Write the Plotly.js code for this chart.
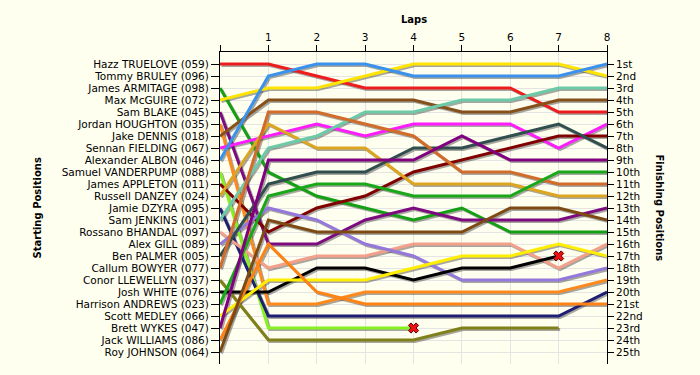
<!DOCTYPE html>
<html><head><meta charset="utf-8">
<script src="https://cdn.plot.ly/plotly-3.0.1.min.js"></script>
<style>html,body{margin:0;padding:0;background:#FFFFF0}#chart{width:700px;height:375px}</style>
</head><body><div id="chart"></div>
<script>
// ---- data ----
const laps = [0, 1, 2, 3, 4, 5, 6, 7, 8];
const lapTickText = ['', '1', '2', '3', '4', '5', '6', '7', '8'];
const startingOrder = [
  'Hazz TRUELOVE (059)', 'Tommy BRULEY (096)', 'James ARMITAGE (098)', 'Max McGUIRE (072)',
  'Sam BLAKE (045)', 'Jordan HOUGHTON (035)', 'Jake DENNIS (018)', 'Sennan FIELDING (067)',
  'Alexander ALBON (046)', 'Samuel VANDERPUMP (088)', 'James APPLETON (011)', 'Russell DANZEY (024)',
  'Jamie DZYRA (095)', 'Sam JENKINS (001)', 'Rossano BHANDAL (097)', 'Alex GILL (089)',
  'Ben PALMER (005)', 'Callum BOWYER (077)', 'Conor LLEWELLYN (037)', 'Josh WHITE (076)',
  'Harrison ANDREWS (023)', 'Scott MEDLEY (066)', 'Brett WYKES (047)', 'Jack WILLIAMS (086)',
  'Roy JOHNSON (064)'
];
const finishLabels = ['1st','2nd','3rd','4th','5th','6th','7th','8th','9th','10th','11th','12th','13th',
  '14th','15th','16th','17th','18th','19th','20th','21st','22nd','23rd','24th','25th'];

// position of each driver at laps 0..8 (lap 0 = grid)
const hazzTruelove      = [1, 1, 2, 3, 3, 3, 3, 5, 5];
const jamesArmitage     = [3, 10, 12, 13, 14, 13, 15, 15, 15];
const maxMcguire        = [4, 3, 3, 2, 1, 1, 1, 1, 2];
const samBlake          = [5, 16, 16, 14, 13, 14, 14, 14, 13];
const jordanHoughton    = [6, 21, 21, 20, 20, 20, 20, 20, 19];
const jakeDennis        = [7, 4, 4, 4, 4, 5, 5, 4, 4];
const sennanFielding    = [8, 7, 6, 7, 6, 6, 6, 8, 6];
const alexanderAlbon    = [9, 2, 1, 1, 2, 2, 2, 2, 1];
const samuelVanderpump  = [10, 23, 23, 23, 23];
const jamesAppleton     = [11, 15, 13, 12, 10, 9, 8, 7, 7];
const russellDanzey     = [12, 6, 8, 8, 11, 11, 11, 12, 12];
const jamieDzyra        = [13, 22, 22, 22, 22, 22, 22, 22, 20];
const samJenkins        = [14, 8, 7, 5, 5, 4, 4, 3, 3];
const rossanoBhandal    = [15, 18, 17, 17, 16, 16, 16, 18, 16];
const alexGill          = [16, 13, 14, 16, 17, 19, 19, 19, 18];
const benPalmer         = [17, 11, 10, 10, 8, 8, 7, 6, 8];
const callumBowyer      = [18, 5, 5, 6, 7, 10, 10, 11, 11];
const conorLlewellyn    = [19, 24, 24, 24, 24, 23, 23, 23];
const joshWhite         = [20, 20, 18, 18, 19, 18, 18, 17];
const harrisonAndrews   = [21, 12, 11, 11, 12, 12, 12, 10, 10];
const scottMedley       = [22, 19, 19, 19, 18, 17, 17, 16, 17];
const brettWykes        = [23, 9, 9, 9, 9, 7, 9, 9, 9];
const jackWilliams      = [24, 16, 20, 21, 21, 21, 21, 21, 21];
const royJohnson        = [25, 14, 15, 15, 15, 15, 13, 13, 14];

const retiredDrivers = ['Samuel VANDERPUMP (088)', 'Josh WHITE (076)'];

// ---- styles ----
const seriesList = [
  ['Hazz TRUELOVE (059)', hazzTruelove, '#EE1C1C'],
  ['James ARMITAGE (098)', jamesArmitage, '#14A014'],
  ['Max McGUIRE (072)', maxMcguire, '#FFE400'],
  ['Sam BLAKE (045)', samBlake, '#7E0A80'],
  ['Jordan HOUGHTON (035)', jordanHoughton, '#FF8A1C'],
  ['Jake DENNIS (018)', jakeDennis, '#85501A'],
  ['Sennan FIELDING (067)', sennanFielding, '#FF1CFF'],
  ['Alexander ALBON (046)', alexanderAlbon, '#3A92EC'],
  ['Samuel VANDERPUMP (088)', samuelVanderpump, '#86F020'],
  ['James APPLETON (011)', jamesAppleton, '#800000'],
  ['Russell DANZEY (024)', russellDanzey, '#DCA620'],
  ['Jamie DZYRA (095)', jamieDzyra, '#1E1E72'],
  ['Sam JENKINS (001)', samJenkins, '#6CCAA8'],
  ['Rossano BHANDAL (097)', rossanoBhandal, '#F2A08A'],
  ['Alex GILL (089)', alexGill, '#9478DC'],
  ['Ben PALMER (005)', benPalmer, '#304E4E'],
  ['Callum BOWYER (077)', callumBowyer, '#D26C2A'],
  ['Conor LLEWELLYN (037)', conorLlewellyn, '#808018'],
  ['Josh WHITE (076)', joshWhite, '#000000'],
  ['Harrison ANDREWS (023)', harrisonAndrews, '#18A818'],
  ['Scott MEDLEY (066)', scottMedley, '#FFEE00'],
  ['Brett WYKES (047)', brettWykes, '#800080'],
  ['Jack WILLIAMS (086)', jackWilliams, '#FF8214'],
  ['Roy JOHNSON (064)', royJohnson, '#7E4A14']
];

const bg = '#FFFFF0';
const fontFam = 'DejaVu Sans, Verdana, sans-serif';
const lapPx = 387 / 8, posPx = 12, shadowPx = 1.5;
const positionTicks = startingOrder.map((_, i) => i + 1);

const traces = [];
// dummy trace so the base axes (grid + labels) are drawn
traces.push({x: laps, y: hazzTruelove, xaxis: 'x', yaxis: 'y', mode: 'lines',
  line: {width: 0}, opacity: 0, hoverinfo: 'skip', showlegend: false});
// shadows
seriesList.forEach(([name, pos]) => traces.push({
  x: laps.slice(0, pos.length), y: pos, xaxis: 'x2', yaxis: 'y2', mode: 'lines',
  line: {color: 'rgba(60,60,60,0.45)', width: 3}, hoverinfo: 'skip', showlegend: false
}));
// lines
seriesList.forEach(([name, pos, color]) => traces.push({
  x: laps.slice(0, pos.length), y: pos, xaxis: 'x3', yaxis: 'y3', mode: 'lines', name: name,
  line: {color: color, width: 3}, showlegend: false
}));
// retirement markers
const retX = [], retY = [];
retiredDrivers.forEach(n => {
  const s = seriesList.find(r => r[0] === n);
  retX.push(laps[s[1].length - 1]); retY.push(s[1][s[1].length - 1]);
});
traces.push({x: retX, y: retY, xaxis: 'x3', yaxis: 'y3', mode: 'markers', showlegend: false,
  marker: {symbol: 'x', size: 9, color: '#EE1111', line: {color: '#5A0000', width: 1}}});

const tickFont = {family: fontFam, size: 10.5, color: '#000'};
const layout = {
  width: 700, height: 375, autosize: false,
  margin: {l: 220, r: 93, t: 52, b: 11, pad: 0},
  paper_bgcolor: bg, plot_bgcolor: bg, showlegend: false,
  xaxis: {range: [0, 8], side: 'top', tickvals: laps, ticktext: lapTickText, ticks: 'outside',
    ticklen: 6, tickcolor: '#000', showline: true, linecolor: '#000', linewidth: 1,
    showgrid: true, gridcolor: '#E4E4E4', zeroline: false, tickfont: tickFont, fixedrange: true},
  yaxis: {range: [26, 0], tickvals: positionTicks, ticktext: startingOrder, ticks: 'outside',
    ticklen: 8, tickcolor: '#000', showline: true, linecolor: '#000', linewidth: 1,
    showgrid: true, gridcolor: '#E4E4E4', zeroline: false, tickfont: tickFont},
  xaxis2: {overlaying: 'x', range: [0 - shadowPx / lapPx, 8 - shadowPx / lapPx], visible: false},
  yaxis2: {overlaying: 'y', range: [26 - shadowPx / posPx, 0 - shadowPx / posPx], visible: false},
  xaxis3: {overlaying: 'x', range: [0, 8], visible: false},
  yaxis3: {overlaying: 'y', side: 'right', range: [26, 0], tickvals: positionTicks, ticktext: finishLabels,
    ticks: 'outside', ticklen: 6, tickcolor: '#000', showline: true, linecolor: '#000', linewidth: 1,
    showgrid: false, zeroline: false, tickfont: tickFont},
  annotations: [
    {text: '<b>Laps</b>', xref: 'paper', yref: 'paper', x: 0.5, y: 1, yshift: 40,
      showarrow: false, font: {family: fontFam, size: 10, color: '#000'}},
    {text: '<b>Starting Positions</b>', xref: 'paper', yref: 'paper', x: 0, xshift: -191, y: 0.5,
      textangle: -90, showarrow: false, font: {family: fontFam, size: 10, color: '#000'}},
    {text: '<b>Finishing Positions</b>', xref: 'paper', yref: 'paper', x: 1, xshift: 60, y: 0.5,
      textangle: 90, showarrow: false, font: {family: fontFam, size: 10, color: '#000'}}
  ]
};
Plotly.newPlot('chart', traces, layout, {displayModeBar: false, staticPlot: true});
</script>
</body></html>
